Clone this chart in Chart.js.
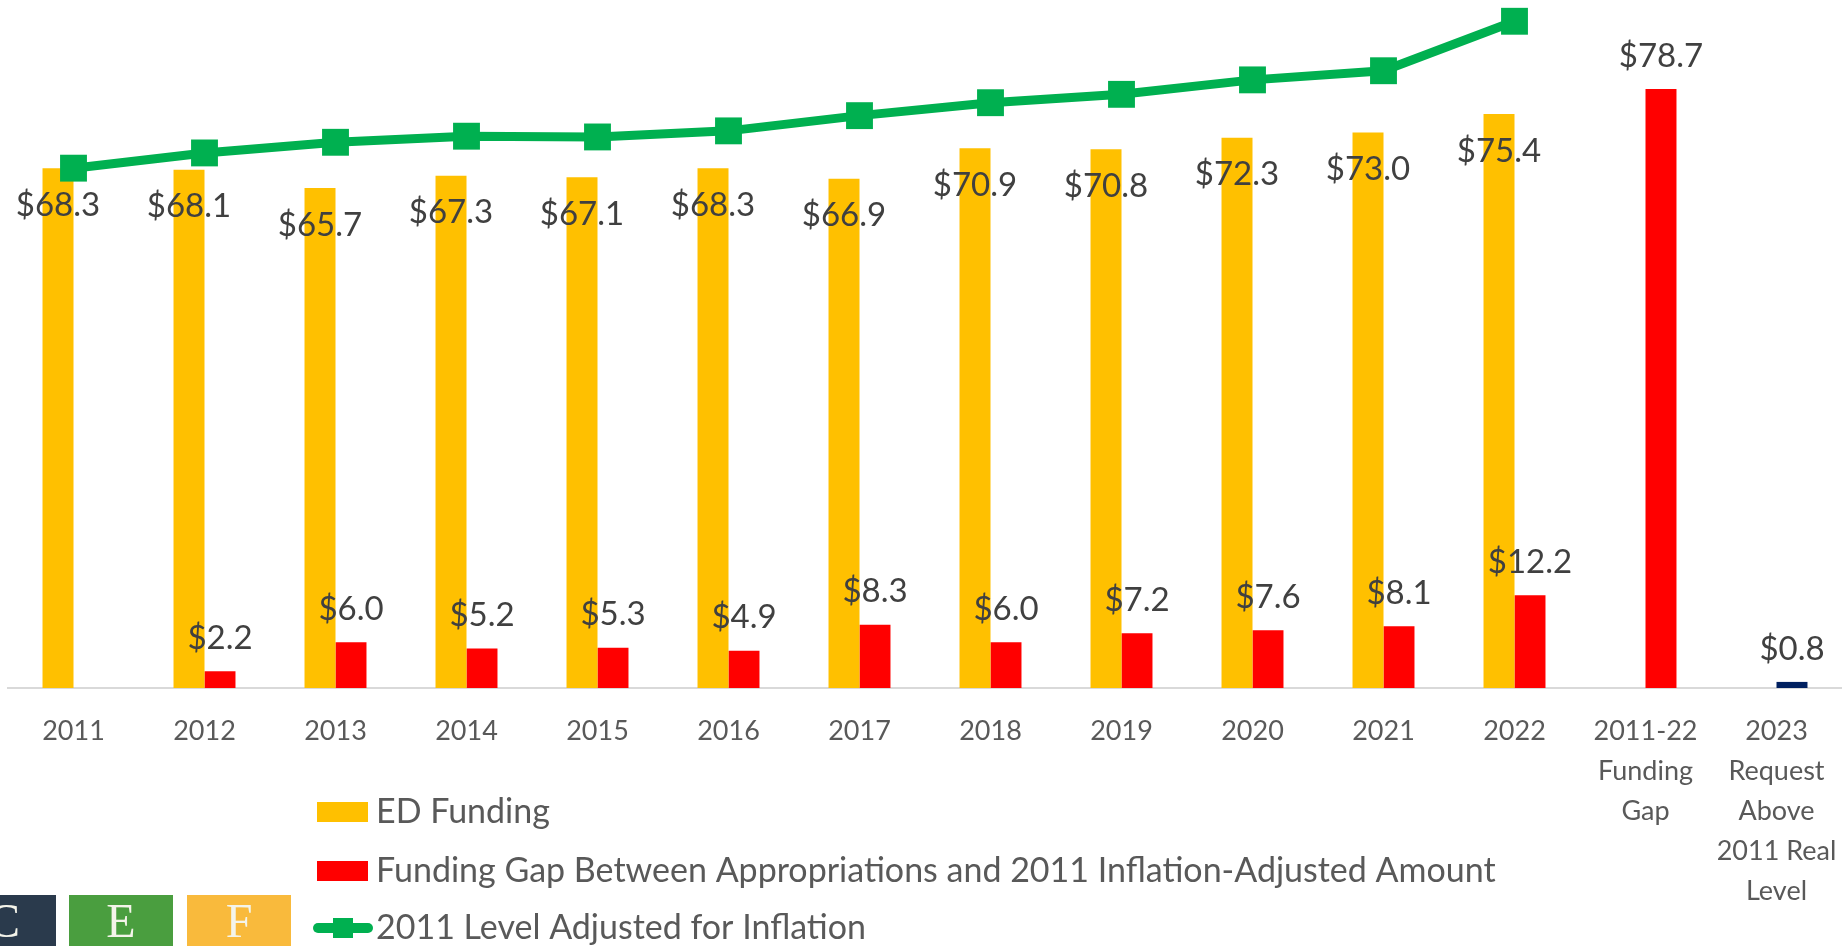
<!DOCTYPE html>
<html><head><meta charset="utf-8">
<script src="https://cdn.jsdelivr.net/npm/chart.js@4.4.1/dist/chart.umd.min.js"></script>
<style>html,body{margin:0;padding:0;background:#fff;overflow:hidden}#wrap{width:1842px;height:948px;position:relative}</style>
</head><body><div id="wrap"><canvas id="c"></canvas></div>
<script>
// ---- data ----
const categories = ['2011','2012','2013','2014','2015','2016','2017','2018','2019','2020','2021','2022',
  ['2011-22','Funding','Gap'], ['2023','Request','Above','2011 Real','Level']];
const edFunding = [68.3,68.1,65.7,67.3,67.1,68.3,66.9,70.9,70.8,72.3,73.0,75.4,null,null];
const fundingGap = [0,2.2,6.0,5.2,5.3,4.9,8.3,6.0,7.2,7.6,8.1,12.2,78.7,null];
const request2023 = [null,null,null,null,null,null,null,null,null,null,null,null,null,0.8];
const inflationAdjusted2011 = [68.3,70.3,71.7,72.5,72.4,73.2,75.2,76.9,78.0,79.9,81.1,87.6,null,null];
const seriesNames = ['ED Funding','Funding Gap Between Appropriations and 2011 Inflation-Adjusted Amount','2011 Level Adjusted for Inflation','2023 Request Above 2011 Real Level'];
const logoLetters = ['C','E','F'];

const COLORS = {ed:'#FFC000', gap:'#FF0000', req:'#002060', line:'#00B050'};
const FONT = 'Lato';

const valueLabels = {
  id:'valueLabels',
  afterDatasetsDraw(chart){
    const ctx = chart.ctx;
    ctx.save();
    ctx.font = '33px ' + FONT;
    ctx.fillStyle = '#404040';
    ctx.textAlign = 'center';
    ctx.textBaseline = 'middle';
    chart.data.datasets.forEach((ds,i)=>{
      if (ds.type === 'line') return;
      const meta = chart.getDatasetMeta(i);
      meta.data.forEach((bar,j)=>{
        const v = ds.data[j];
        if (v == null || v === 0) return;
        const y = ds.labelInside ? bar.y + 37 : bar.y - 33;
        ctx.fillText('$' + v.toFixed(1), bar.x, y);
      });
    });
    ctx.restore();
  }
};

const customLegend = {
  id:'customLegend',
  afterDraw(chart){
    const ctx = chart.ctx;
    ctx.save();
    const rows = [812, 871, 928];
    ctx.fillStyle = COLORS.ed; ctx.fillRect(317, rows[0]-10, 51, 20);
    ctx.fillStyle = COLORS.gap; ctx.fillRect(317, rows[1]-10, 51, 20);
    ctx.strokeStyle = COLORS.line; ctx.lineWidth = 10; ctx.lineCap = 'round';
    ctx.beginPath(); ctx.moveTo(318, rows[2]); ctx.lineTo(368, rows[2]); ctx.stroke();
    ctx.fillStyle = COLORS.line; ctx.fillRect(333, rows[2]-10, 20, 20);
    ctx.font = '34px ' + FONT; ctx.fillStyle = '#595959';
    ctx.textAlign = 'left'; ctx.textBaseline = 'middle';
    for (let k = 0; k < 3; k++) ctx.fillText(seriesNames[k], 376, rows[k]);
    // logo
    const boxes = [[-48,'#2A3A4C'],[69,'#4A9E3F'],[187,'#F9BA3C']];
    boxes.forEach((b,k)=>{
      ctx.fillStyle = b[1]; ctx.fillRect(b[0], 895, 104, 51);
      ctx.fillStyle = '#F4F4EA'; ctx.font = '48px "Liberation Serif"';
      ctx.textAlign = 'center'; ctx.textBaseline = 'alphabetic';
      ctx.fillText(logoLetters[k], b[0] + 52, 937);
    });
    ctx.restore();
  }
};

new Chart(document.getElementById('c'), {
  data: {
    labels: categories,
    datasets: [
      {type:'line', label: seriesNames[2], data: inflationAdjusted2011, borderColor: COLORS.line,
       backgroundColor: COLORS.line, borderWidth: 9, pointStyle:'rect', pointRadius: 19, pointHoverRadius: 19,
       pointBorderWidth: 0, pointBackgroundColor: COLORS.line, tension: 0, order: 0, clip: false},
      {type:'bar', label: seriesNames[0], data: edFunding, backgroundColor: COLORS.ed, stack:'ed', order: 1, labelInside: true},
      {type:'bar', label: seriesNames[1], data: fundingGap, backgroundColor: COLORS.gap, stack:'gap', order: 1},
      {type:'bar', label: seriesNames[3], data: request2023, backgroundColor: COLORS.req, stack:'gap', order: 1}
    ]
  },
  options: {
    responsive: true, maintainAspectRatio: false, animation: false,
    layout: {autoPadding: false, padding: {left: 8, right: 0, top: 3, bottom: 0}},
    datasets: {bar: {categoryPercentage: 0.473, barPercentage: 1, borderWidth: 0}},
    plugins: {legend: {display: false}, tooltip: {enabled: false}},
    scales: {
      x: {
        grid: {display: false, drawTicks: false, tickLength: 0},
        border: {display: true, color: '#D9D9D9', width: 2},
        ticks: {color: '#595959', font: {family: FONT, size: 27, lineHeight: 1.48}, padding: 23,
                maxRotation: 0, autoSkip: false},
        afterFit(scale){ scale.height = 260; scale.paddingLeft = 0; scale.paddingRight = 0; }
      },
      y: {display: false, min: 0, max: 90}
    }
  },
  plugins: [valueLabels, customLegend]
});
</script>
</body></html>
